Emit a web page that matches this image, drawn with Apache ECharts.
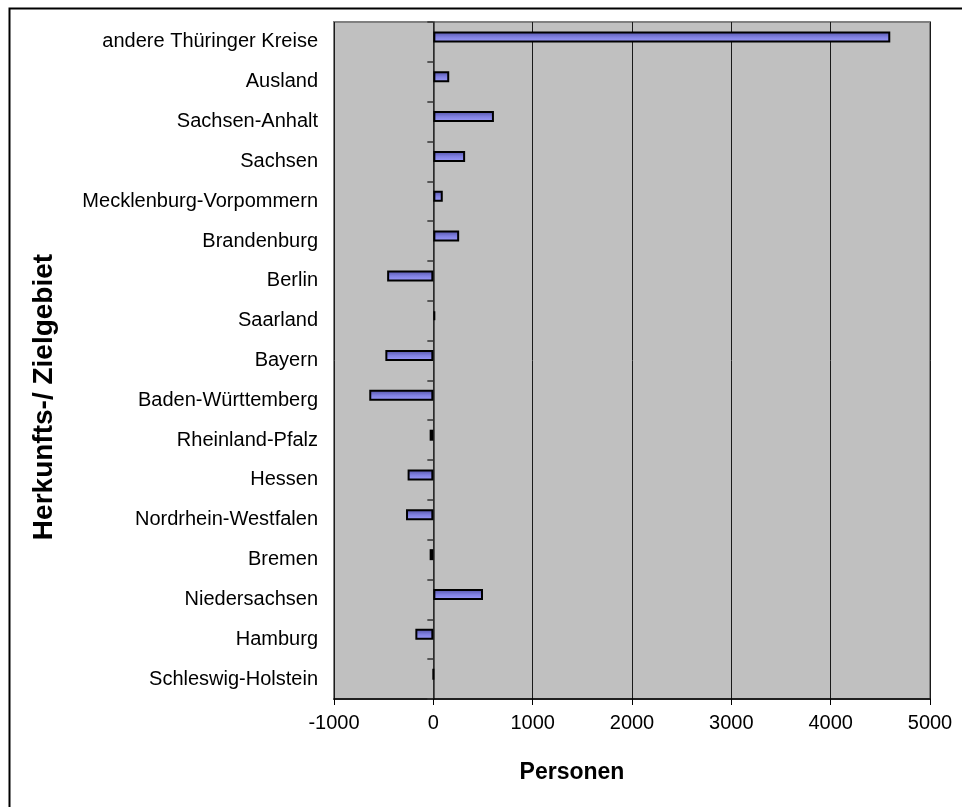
<!DOCTYPE html>
<html><head><meta charset="utf-8">
<script src="https://cdn.jsdelivr.net/npm/echarts@6/dist/echarts.min.js"></script>
<style>html,body{margin:0;padding:0;background:#fff}#c{width:962px;height:807px}</style>
</head><body><div id="c"></div>
<script>
const categories = ['andere Thüringer Kreise','Ausland','Sachsen-Anhalt','Sachsen','Mecklenburg-Vorpommern','Brandenburg','Berlin','Saarland','Bayern','Baden-Württemberg','Rheinland-Pfalz','Hessen','Nordrhein-Westfalen','Bremen','Niedersachsen','Hamburg','Schleswig-Holstein'];
const saldo = [4600,160,610,320,95,260,-465,20,-483,-645,-37,-259,-275,-37,500,-181,0];
const emptySeries = categories.map(() => null);
const xMin = -1000, xMax = 5000, xInterval = 1000;
const xTitle = 'Personen';
const yTitle = 'Herkunfts-/ Zielgebiet';

const FONT = '"Liberation Sans", Arial, sans-serif';
const chart = echarts.init(document.getElementById('c'));
chart.setOption({
  animation: false,
  backgroundColor: '#fff',
  grid: {left: 334, top: 22, right: 32, bottom: 108, show: true, backgroundColor: '#c0c0c0', borderColor: '#808080', borderWidth: 2, containLabel: false},
  xAxis: {
    type: 'value', min: xMin, max: xMax, interval: xInterval, position: 'bottom',
    axisLine: {show: true, onZero: false, lineStyle: {color: '#000', width: 1.5}},
    axisTick: {show: true, length: 6, lineStyle: {color: '#000'}},
    axisLabel: {fontFamily: FONT, fontSize: 20, color: '#000', margin: 14, formatter: v => String(v)},
    splitLine: {show: true, lineStyle: {color: '#1a1a1a', width: 1}}
  },
  yAxis: [{
    type: 'category', data: categories, inverse: true, position: 'left',
    axisLine: {show: false, onZero: false}, axisTick: {show: false},
    axisLabel: {fontFamily: FONT, fontSize: 20, color: '#000', margin: 16}
  }, {
    type: 'category', data: categories, inverse: true, position: 'left',
    axisLine: {show: true, onZero: true, lineStyle: {color: '#333', width: 1.5}},
    axisTick: {show: true, length: 6, lineStyle: {color: '#333', width: 1.5}},
    axisLabel: {show: false}, splitLine: {show: false}
  }],
  series: [{
    type: 'bar', data: saldo, yAxisIndex: 0, barWidth: 11, barGap: '-10%',
    itemStyle: {
      color: new echarts.graphic.LinearGradient(0, 0, 0, 1, [
        {offset: 0, color: '#4f4fa3'}, {offset: 0.5, color: '#8080e0'}, {offset: 1, color: '#9f9fff'}
      ]),
      borderColor: '#000', borderWidth: 2
    }
  }, {
    type: 'bar', data: emptySeries, yAxisIndex: 0, barWidth: 11, silent: true
  }],
  graphic: [
    {type: 'rect', left: 7, top: 6, shape: {width: 1200, height: 1200}, style: {fill: 'none', stroke: '#000', lineWidth: 2}, silent: true},
    {type: 'text', x: 572, y: 773, style: {text: xTitle, font: 'bold 23px "Liberation Sans", Arial, sans-serif', fill: '#000', align: 'center', verticalAlign: 'middle'}},
    {type: 'text', x: 44, y: 397, rotation: Math.PI / 2, style: {text: yTitle, font: 'bold 28px "Liberation Sans", Arial, sans-serif', fill: '#000', align: 'center', verticalAlign: 'middle'}}
  ]
});
</script></body></html>
